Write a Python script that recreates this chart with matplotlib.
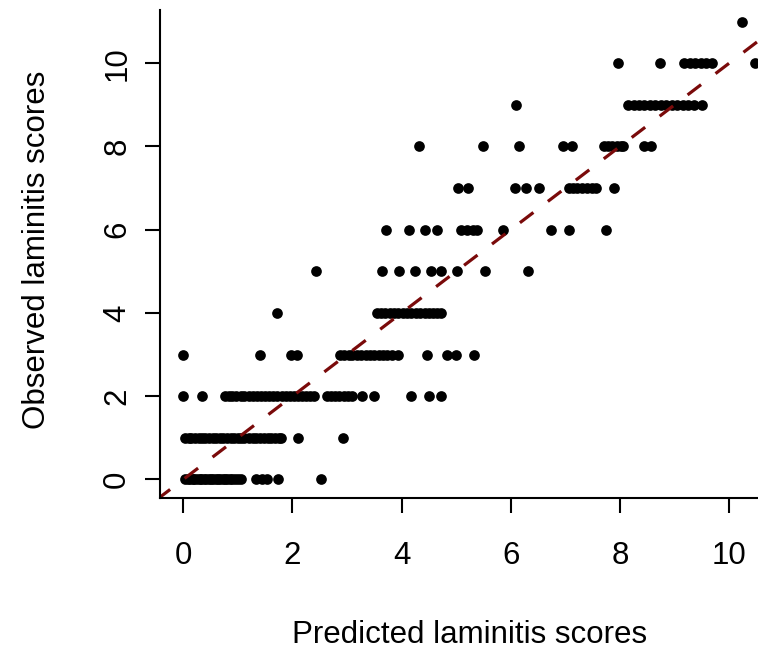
import matplotlib
matplotlib.use('Agg')
import matplotlib.pyplot as plt
import numpy as np

plt.rcParams['font.family'] = ['Liberation Sans', 'DejaVu Sans']

# predicted scores grouped by the observed laminitis score
pred_obs0 = [0.03, 0.08, 0.12, 0.17, 0.2, 0.25, 0.3, 0.33, 0.38, 0.42, 0.47, 0.5,
             0.55, 0.6, 0.63, 0.68, 0.72, 0.77, 0.8, 0.85, 0.9, 0.95, 1.0, 1.05,
             1.34, 1.45, 1.54, 1.74, 2.53]
pred_obs1 = [0.03, 0.1, 0.15, 0.22, 0.28, 0.35, 0.4, 0.47, 0.55, 0.6, 0.68, 0.73,
             0.8, 0.87, 0.93, 1.0, 1.05, 1.12, 1.2, 1.27, 1.33, 1.4, 1.47, 1.55,
             1.6, 1.68, 1.75, 1.79, 2.1, 2.92]
pred_obs2 = [0.0, 0.34, 0.76, 0.83, 0.9, 0.97, 1.05, 1.12, 1.2, 1.27, 1.35, 1.42,
             1.5, 1.57, 1.65, 1.72, 1.8, 1.88, 1.95, 2.03, 2.1, 2.18, 2.25, 2.32,
             2.39, 2.63, 2.7, 2.78, 2.86, 2.94, 3.02, 3.1, 3.28, 3.49, 4.18, 4.51,
             4.72]
pred_obs3 = [0.0, 1.4, 1.98, 2.09, 2.87, 2.95, 3.03, 3.1, 3.18, 3.26, 3.34, 3.42,
             3.5, 3.58, 3.66, 3.74, 3.82, 3.93, 4.47, 4.84, 4.99, 5.33]
pred_obs4 = [1.71, 3.55, 3.62, 3.7, 3.78, 3.86, 3.94, 4.02, 4.1, 4.18, 4.26, 4.34,
             4.42, 4.5, 4.58, 4.65, 4.72]
pred_obs5 = [2.44, 3.64, 3.95, 4.24, 4.53, 4.72, 5.02, 5.52, 6.32]
pred_obs6 = [3.71, 4.13, 4.42, 4.64, 5.08, 5.19, 5.3, 5.39, 5.85, 6.73, 7.07, 7.74]
pred_obs7 = [5.03, 5.21, 6.07, 6.28, 6.51, 7.06, 7.14, 7.22, 7.3, 7.4, 7.48, 7.57,
             7.9]
pred_obs8 = [4.32, 5.5, 6.15, 6.95, 7.12, 7.7, 7.78, 7.86, 7.94, 8.02, 8.06, 8.44,
             8.57]
pred_obs9 = [6.09, 8.15, 8.25, 8.35, 8.45, 8.55, 8.65, 8.75, 8.85, 8.95, 9.05,
             9.15, 9.25, 9.35, 9.5]
pred_obs10 = [7.96, 8.74, 9.18, 9.28, 9.38, 9.48, 9.58, 9.68, 10.47]
pred_obs11 = [10.23]

groups = [pred_obs0, pred_obs1, pred_obs2, pred_obs3, pred_obs4, pred_obs5,
          pred_obs6, pred_obs7, pred_obs8, pred_obs9, pred_obs10, pred_obs11]
pred = np.hstack(groups)
obs = np.hstack([[i] * len(g) for i, g in enumerate(groups)])

fig = plt.figure(figsize=(7.58, 6.52), dpi=100)
ax = fig.add_axes([160 / 758., (652 - 498) / 652., 598 / 758., 488 / 652.])

ax.plot(pred, obs, 'o', color='black', markersize=7.7, markeredgewidth=0)
ax.plot([-1, 12], [-1, 12], color='#7a0a0a', lw=2.3,
        linestyle=(0, (5.3, 5.7)))

ax.set_xlim(-0.427, 10.53)
ax.set_ylim(-0.447, 11.28)
ax.set_xticks([0, 2, 4, 6, 8, 10])
ax.set_yticks([0, 2, 4, 6, 8, 10])
ax.spines['top'].set_visible(False)
ax.spines['right'].set_visible(False)
for s in ['left', 'bottom']:
    ax.spines[s].set_linewidth(1.5)
ax.tick_params(width=1.5, length=11, labelsize=22.5, color='black')
ax.tick_params(axis='x', pad=20)
ax.tick_params(axis='y', pad=9)
for t in ax.get_yticklabels():
    t.set_rotation(90)
    t.set_va('center')

ax.set_xlabel('Predicted laminitis scores', fontsize=22.5)
ax.set_ylabel('Observed laminitis scores', fontsize=22.5)
ax.xaxis.set_label_coords(0.517, -0.281)
ax.xaxis.label.set_va('center')
ax.yaxis.set_label_coords(-0.205, 0.508)
ax.yaxis.label.set_va('center')

fig.savefig('out.png', dpi=100)
